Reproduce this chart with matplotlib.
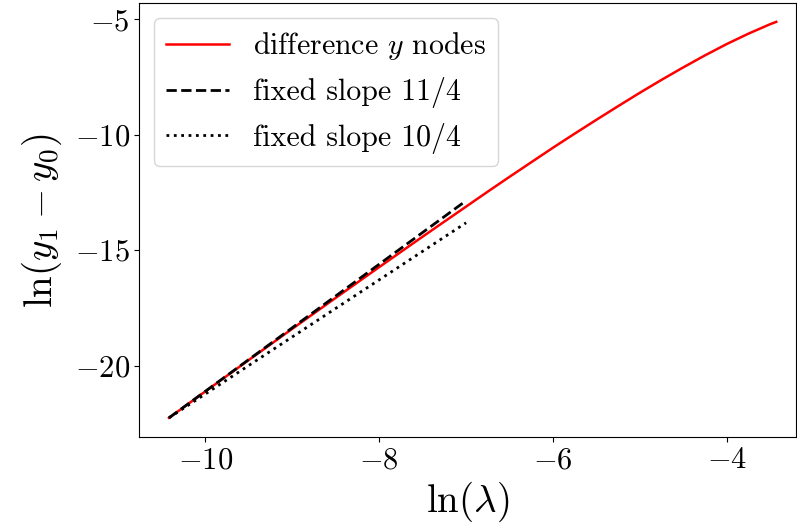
import matplotlib
matplotlib.use("Agg")
import matplotlib.pyplot as plt

plt.rcParams['font.family'] = ['cmr10', 'DejaVu Serif']
plt.rcParams['mathtext.fontset'] = 'cm'
plt.rcParams['axes.formatter.use_mathtext'] = True
plt.rcParams['axes.unicode_minus'] = True

# red curve: ln(lambda) vs ln(y1 - y0)
ln_lambda = [-10.42, -10.0, -9.5, -9.0, -8.5, -8.0, -7.5, -7.0, -6.75, -6.5,
             -6.25, -6.0, -5.75, -5.5, -5.25, -5.0, -4.75, -4.5, -4.25, -4.0,
             -3.75, -3.5, -3.43]
ln_diff = [-22.26, -21.11, -19.75, -18.40, -17.06, -15.73, -14.41, -13.11,
           -12.46, -11.82, -11.19, -10.56, -9.95, -9.35, -8.76, -8.18, -7.62,
           -7.08, -6.56, -6.07, -5.62, -5.21, -5.11]

# fixed-slope reference lines (end points)
slope_x = [-10.42, -7.0]
slope_11_4_y = [-22.26, -12.855]
slope_10_4_y = [-22.26, -13.81]

labels = [r'difference $y$ nodes', 'fixed slope 11/4', 'fixed slope 10/4']

fig = plt.figure(figsize=(7.97, 5.31), dpi=100)
ax = fig.add_axes([0.175, 0.177, 0.824, 0.817])

ax.plot(ln_lambda, ln_diff, color='red', lw=1.8, label=labels[0])
ax.plot(slope_x, slope_11_4_y, color='black', ls='--', lw=2, label=labels[1])
ax.plot(slope_x, slope_10_4_y, color='black', ls=':', lw=2, label=labels[2])

ax.set_xlim(-10.76, -3.20)
ax.set_ylim(-23.09, -4.30)
ax.set_xticks([-10, -8, -6, -4])
ax.set_yticks([-20, -15, -10, -5])
ax.tick_params(labelsize=22)

ax.set_xlabel(r'$\ln(\lambda)$', fontsize=28)
ax.set_ylabel(r'$\ln(y_1 - y_0)$', fontsize=28, labelpad=8)

ax.legend(loc='upper left', fontsize=21.5, handlelength=2.1)

fig.savefig('out.png', dpi=100)
